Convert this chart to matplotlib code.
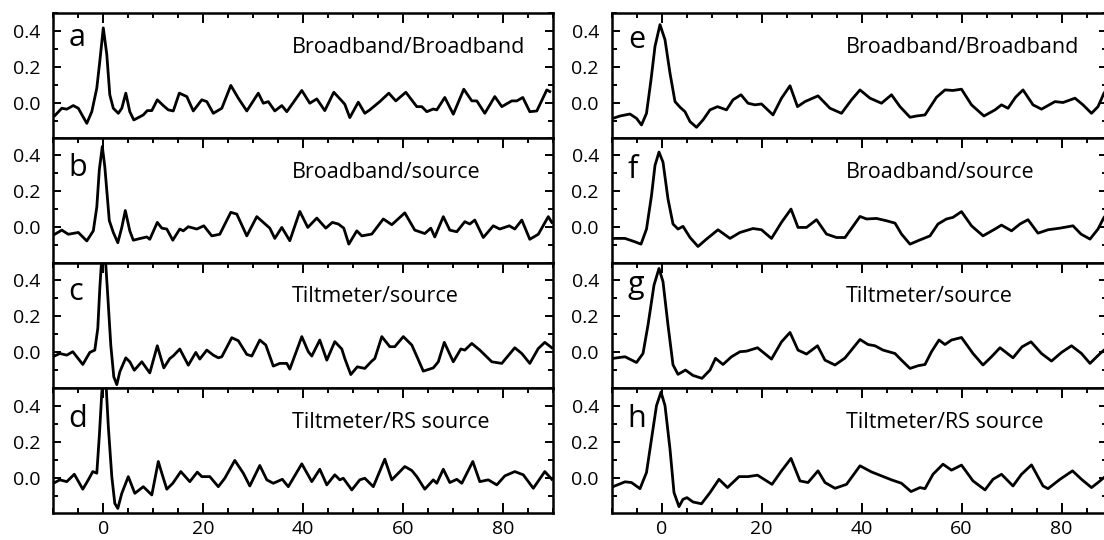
import matplotlib
matplotlib.use("Agg")
import matplotlib.pyplot as plt
from matplotlib.ticker import MultipleLocator, FormatStrFormatter

plt.rcParams['font.family'] = ['Open Sans', 'DejaVu Sans']

# cross-correlation traces as (lag, coefficient)
a_pts = [(-9.7, -0.069), (-8.3, -0.028), (-7.3, -0.033), (-6.0, -0.013), (-5.0, -0.028),
         (-3.3, -0.112), (-2.3, -0.047), (-1.3, 0.084), (-0.7, 0.233), (0.0, 0.419),
         (0.7, 0.270), (1.3, 0.047), (2.0, -0.028), (3.0, -0.056), (3.7, -0.028),
         (4.5, 0.056), (5.3, -0.047), (6.1, -0.093), (7.0, -0.080), (8.0, -0.065),
         (8.8, -0.041), (9.7, -0.041), (10.8, 0.019), (12.0, -0.013), (13.0, -0.037),
         (14.0, -0.043), (15.2, 0.056), (16.7, 0.037), (18.0, -0.043), (19.7, 0.019),
         (20.7, 0.009), (22.0, -0.056), (23.7, -0.028), (25.5, 0.099), (27.0, 0.028),
         (28.7, -0.043), (31.0, 0.056), (32.0, 0.0), (33.0, 0.009), (34.3, -0.043),
         (35.7, -0.013), (36.7, -0.047), (39.7, 0.071), (41.3, 0.0), (42.7, 0.024),
         (44.3, -0.041), (46.1, 0.061), (47.7, 0.013), (48.3, -0.006), (49.3, -0.080),
         (51.0, 0.006), (52.3, -0.056), (53.3, -0.037), (55.3, 0.009), (57.1, 0.056),
         (58.5, 0.013), (60.5, 0.061), (62.7, -0.019), (63.7, -0.019), (64.7, -0.047),
         (66.0, -0.032), (66.7, -0.037), (68.3, 0.032), (70.0, -0.061), (72.1, 0.078),
         (73.7, 0.013), (74.7, 0.013), (76.3, -0.056), (78.3, 0.037), (79.7, -0.019),
         (81.7, 0.013), (82.7, 0.013), (83.9, 0.032), (85.3, -0.047), (86.7, -0.043),
         (88.7, 0.074), (89.3, 0.065)]

b_pts = [(-9.7, -0.038), (-8.3, -0.015), (-7.0, -0.038), (-5.0, -0.028), (-3.3, -0.075),
         (-2.0, -0.019), (-1.3, 0.113), (-0.8, 0.32), (-0.2, 0.45), (0.3, 0.338),
         (1.2, 0.038), (2.0, -0.028), (2.9, -0.085), (3.7, 0.0), (4.4, 0.094),
         (5.3, -0.019), (6.0, -0.071), (7.3, -0.062), (8.7, -0.053), (9.3, -0.066),
         (10.8, 0.028), (11.7, -0.004), (12.7, -0.009), (13.9, -0.071), (15.3, -0.009),
         (16.0, -0.019), (17.0, 0.004), (18.7, -0.009), (20.1, 0.009), (21.7, -0.047),
         (23.3, -0.038), (25.5, 0.084), (26.7, 0.074), (28.7, -0.047), (30.7, 0.06),
         (32.0, 0.028), (33.3, -0.004), (34.3, -0.061), (35.7, 0.0), (37.3, -0.074),
         (39.3, 0.089), (40.9, 0.0), (42.7, 0.052), (44.5, -0.004), (45.8, 0.028),
         (47.0, 0.019), (48.1, -0.004), (49.1, -0.093), (50.7, -0.019), (51.7, -0.047),
         (53.7, -0.037), (56.0, 0.047), (57.7, 0.015), (60.3, 0.081), (62.3, -0.015),
         (64.3, -0.034), (65.5, -0.004), (66.3, -0.053), (68.0, 0.06), (69.3, -0.015),
         (70.7, -0.024), (72.3, 0.032), (73.3, 0.019), (74.3, 0.041), (76.0, -0.056),
         (78.0, 0.009), (79.3, -0.009), (81.2, 0.009), (82.3, -0.009), (83.7, 0.041),
         (85.3, -0.066), (87.0, -0.038), (89.0, 0.06), (89.7, 0.028)]

c_pts = [(-9.7, -0.019), (-8.7, -0.006), (-7.3, -0.015), (-6.1, 0.004), (-4.1, -0.067),
         (-2.7, 0.0), (-1.7, 0.013), (-1.1, 0.134), (-0.7, 0.357), (-0.3, 0.53),
         (0.4, 0.53), (0.8, 0.357), (1.5, 0.04), (2.1, -0.136), (2.7, -0.179),
         (3.3, -0.108), (4.5, -0.03), (5.3, -0.052), (6.2, -0.099), (7.7, -0.052),
         (9.3, -0.114), (10.8, 0.037), (12.1, -0.086), (13.3, -0.034), (14.0, -0.019),
         (15.3, 0.019), (17.0, -0.071), (18.5, 0.0), (19.3, -0.037), (20.7, 0.013),
         (22.0, -0.015), (23.0, -0.03), (23.7, -0.024), (25.7, 0.082), (27.0, 0.065),
         (28.7, -0.011), (29.7, -0.02), (31.3, 0.069), (32.5, 0.041), (34.0, -0.076),
         (35.3, -0.061), (36.7, -0.061), (37.3, -0.093), (39.7, 0.088), (41.0, 0.004),
         (41.7, -0.02), (43.3, 0.069), (44.7, -0.043), (46.3, 0.06), (47.7, 0.019),
         (48.3, -0.034), (49.5, -0.123), (50.8, -0.08), (52.3, -0.089), (53.7, -0.048),
         (54.3, -0.034), (55.7, 0.088), (57.3, 0.032), (58.3, 0.032), (60.0, 0.088),
         (61.7, 0.041), (62.9, -0.034), (64.0, -0.104), (66.0, -0.086), (67.0, -0.052),
         (68.2, 0.056), (70.0, -0.052), (71.5, 0.019), (72.3, 0.013), (73.7, 0.05),
         (75.3, 0.013), (77.7, -0.052), (79.7, -0.061), (80.8, -0.024), (82.3, 0.026),
         (83.7, -0.006), (85.3, -0.061), (87.0, 0.022), (88.3, 0.056), (89.7, 0.026)]

d_pts = [(-9.7, -0.024), (-8.7, -0.009), (-7.3, -0.019), (-5.8, 0.022), (-4.1, -0.061),
         (-3.0, -0.009), (-2.1, 0.037), (-1.3, 0.028), (-0.8, 0.233), (-0.3, 0.475),
         (0.0, 0.55), (0.5, 0.55), (1.0, 0.289), (1.7, 0.009), (2.3, -0.14),
         (2.9, -0.168), (3.7, -0.084), (5.0, 0.009), (6.3, -0.084), (8.0, -0.047),
         (9.7, -0.093), (11.0, 0.093), (11.7, 0.028), (12.7, -0.061), (13.9, -0.028),
         (15.5, 0.037), (17.3, -0.019), (18.8, 0.034), (19.7, 0.009), (21.3, 0.009),
         (23.0, -0.047), (24.3, 0.0), (26.3, 0.099), (28.0, 0.028), (29.3, -0.043),
         (31.3, 0.071), (32.7, -0.009), (34.0, -0.028), (35.8, -0.006), (37.0, -0.047),
         (39.7, 0.08), (41.7, -0.019), (43.3, 0.05), (44.7, -0.037), (46.3, 0.019),
         (47.3, -0.009), (48.0, 0.0), (49.7, -0.065), (51.3, -0.009), (52.3, 0.0),
         (54.0, -0.047), (56.3, 0.106), (57.7, -0.009), (60.3, 0.065), (61.7, 0.043),
         (62.7, 0.009), (64.3, -0.061), (66.0, -0.009), (66.7, -0.028), (68.0, 0.05),
         (69.3, -0.024), (70.7, -0.006), (71.7, -0.028), (73.9, 0.093), (75.3, -0.019),
         (77.0, -0.009), (78.7, -0.037), (80.3, 0.013), (82.3, 0.037), (84.0, 0.019),
         (86.0, -0.056), (88.3, 0.037), (89.7, -0.006)]

e_pts = [(-9.7, -0.084), (-8.3, -0.071), (-6.3, -0.06), (-5.0, -0.084), (-4.0, -0.121),
         (-3.0, -0.056), (-2.1, 0.13), (-1.3, 0.316), (-0.3, 0.437), (0.7, 0.353),
         (1.7, 0.167), (2.7, 0.009), (3.7, -0.022), (4.7, -0.047), (5.7, -0.102),
         (7.0, -0.134), (8.3, -0.093), (9.7, -0.037), (11.2, -0.019), (13.0, -0.037),
         (14.3, 0.019), (15.9, 0.047), (17.3, 0.0), (18.7, -0.009), (20.0, -0.004),
         (22.3, -0.065), (24.0, 0.028), (25.7, 0.097), (27.2, -0.019), (28.7, 0.009),
         (31.3, 0.041), (33.7, -0.028), (36.0, -0.056), (38.0, 0.019), (39.7, 0.074),
         (41.7, 0.028), (44.0, 0.0), (46.0, 0.047), (47.7, -0.019), (49.7, -0.078),
         (51.0, -0.071), (52.7, -0.065), (55.0, 0.033), (56.7, 0.074), (58.3, 0.071),
         (60.0, 0.078), (62.0, -0.009), (64.5, -0.071), (66.7, -0.037), (68.0, -0.009),
         (69.3, -0.028), (70.8, 0.033), (72.3, 0.074), (74.3, -0.009), (76.0, -0.033),
         (78.7, 0.009), (80.3, 0.004), (82.7, 0.028), (84.3, -0.009), (86.0, -0.056),
         (87.3, -0.019), (88.5, 0.056), (89.0, 0.075)]

f_pts = [(-9.7, -0.061), (-7.3, -0.061), (-5.3, -0.08), (-4.1, -0.093), (-3.0, -0.009),
         (-2.0, 0.177), (-1.3, 0.345), (-0.5, 0.419), (0.3, 0.363), (1.3, 0.158),
         (2.3, 0.019), (3.3, -0.009), (4.3, 0.006), (5.7, -0.056), (7.3, -0.106),
         (9.0, -0.065), (11.3, -0.013), (13.7, -0.061), (15.7, -0.028), (18.3, -0.006),
         (20.0, -0.013), (22.0, -0.061), (24.0, 0.028), (25.9, 0.102), (27.3, 0.0),
         (29.0, 0.0), (31.0, 0.043), (33.0, -0.037), (35.0, -0.056), (36.7, -0.056),
         (39.7, 0.061), (41.0, 0.047), (43.0, 0.05), (45.0, 0.037), (46.7, 0.024),
         (48.0, -0.037), (49.7, -0.093), (51.3, -0.074), (53.7, -0.047), (55.3, 0.019),
         (57.0, 0.047), (58.3, 0.056), (60.0, 0.088), (62.0, 0.009), (64.3, -0.047),
         (66.7, -0.009), (68.0, 0.013), (70.0, -0.019), (71.7, 0.019), (73.3, 0.043),
         (75.3, -0.032), (77.3, -0.013), (79.7, -0.004), (82.3, 0.009), (83.9, -0.037),
         (85.7, -0.065), (87.3, -0.009), (88.5, 0.056), (89.0, 0.07)]

g_pts = [(-9.7, -0.033), (-7.3, -0.024), (-5.0, -0.056), (-3.7, -0.006), (-2.7, 0.152),
         (-1.5, 0.374), (-0.5, 0.467), (0.3, 0.393), (1.3, 0.152), (2.3, -0.069),
         (3.3, -0.122), (4.8, -0.098), (6.3, -0.128), (8.1, -0.144), (9.7, -0.098),
         (10.8, -0.033), (12.3, -0.067), (14.0, -0.024), (15.7, 0.004), (17.0, 0.007),
         (19.2, 0.026), (22.0, -0.037), (24.0, 0.059), (25.7, 0.111), (27.3, 0.013),
         (29.0, -0.009), (31.2, 0.037), (32.7, -0.043), (34.7, -0.07), (36.7, -0.031),
         (39.7, 0.072), (41.3, 0.044), (42.7, 0.037), (44.3, 0.013), (46.7, -0.006),
         (48.0, -0.043), (49.7, -0.089), (51.3, -0.074), (52.7, -0.067), (54.0, 0.004),
         (55.5, 0.069), (56.7, 0.044), (58.0, 0.069), (60.0, 0.083), (62.3, -0.006),
         (64.3, -0.07), (66.0, -0.024), (67.7, 0.026), (70.3, -0.03), (72.1, 0.031),
         (73.9, 0.059), (76.0, -0.006), (78.0, -0.048), (80.0, 0.0), (82.0, 0.037),
         (84.0, -0.006), (85.7, -0.061), (87.3, -0.017), (88.5, 0.013), (89.0, 0.02)]

h_pts = [(-9.7, -0.047), (-7.3, -0.02), (-6.0, -0.024), (-4.3, -0.058), (-3.0, 0.032),
         (-2.0, 0.218), (-1.0, 0.404), (-0.1, 0.479), (0.7, 0.404), (1.7, 0.162),
         (2.5, -0.08), (3.5, -0.158), (4.3, -0.117), (5.1, -0.108), (6.3, -0.132),
         (8.0, -0.142), (9.7, -0.08), (11.5, -0.006), (13.2, -0.052), (15.5, 0.009),
         (17.3, 0.009), (19.2, 0.017), (22.1, -0.034), (24.0, 0.041), (25.9, 0.11),
         (27.7, -0.015), (29.3, -0.024), (31.3, 0.041), (32.7, -0.024), (34.7, -0.056),
         (37.0, -0.034), (39.7, 0.069), (42.0, 0.035), (44.0, 0.013), (46.0, -0.009),
         (48.0, -0.028), (49.9, -0.074), (51.7, -0.052), (52.7, -0.058), (54.3, 0.022),
         (56.3, 0.078), (58.0, 0.045), (60.0, 0.073), (62.3, -0.015), (64.7, -0.065),
         (66.3, -0.006), (68.0, 0.022), (70.3, -0.043), (72.0, 0.022), (74.0, 0.074),
         (76.3, -0.043), (77.3, -0.058), (79.7, -0.006), (82.2, 0.041), (84.0, -0.006),
         (86.0, -0.052), (87.3, -0.024), (88.5, 0.004), (89.0, 0.015)]

letters = ['a', 'b', 'c', 'd', 'e', 'f', 'g', 'h']
titles = ['Broadband/Broadband', 'Broadband/source', 'Tiltmeter/source', 'Tiltmeter/RS source'] * 2
traces = [a_pts, b_pts, c_pts, d_pts, e_pts, f_pts, g_pts, h_pts]
letter_y = [0.74, 0.69, 0.70, 0.69, 0.72, 0.68, 0.76, 0.69]

fig = plt.figure(figsize=(11.04, 5.4), dpi=100)

W, H = 1104.0, 540.0
col_left = [53.3, 611.5]      # pixel x of left spine
col_xmax = [90, 89]           # right column runs off the page
row_top = [13.3, 137.5, 262.5, 388.3]
row_h = 125.0

for i, pts in enumerate(traces):
    col, row = divmod(i, 4)
    x0 = col_left[col]
    width = (col_xmax[col] + 10) * 5.0
    bottom = H - row_top[row] - row_h
    ax = fig.add_axes([x0 / W, bottom / H, width / W, row_h / H])

    lag = [p[0] for p in pts]
    coef = [p[1] for p in pts]
    ax.plot(lag, coef, color='black', lw=2.0, solid_joinstyle='round')

    ax.set_xlim(-10, col_xmax[col])
    ax.set_ylim(-0.195, 0.50)
    ax.xaxis.set_major_locator(MultipleLocator(20))
    ax.xaxis.set_minor_locator(MultipleLocator(5))
    ax.yaxis.set_major_locator(MultipleLocator(0.2))
    ax.yaxis.set_minor_locator(MultipleLocator(0.1))
    ax.yaxis.set_major_formatter(FormatStrFormatter('%.1f'))

    last = row == 3
    ax.tick_params(which='both', direction='in', top=True, right=True,
                   bottom=last, labelbottom=last, width=1.4, labelsize=14)
    ax.tick_params(axis='x', which='major', length=7, pad=5)
    ax.tick_params(axis='y', which='major', length=5.5, pad=9)
    ax.tick_params(which='minor', length=3.6)
    for s in ax.spines.values():
        s.set_linewidth(1.8)

    xfrac = 0.030 if col == 0 else 0.033
    ax.text(xfrac, letter_y[i], letters[i], transform=ax.transAxes, fontsize=22,
            va='baseline', ha='left')
    tx = 0.477 if col == 0 else 0.474
    ax.text(tx, 0.68, titles[i], transform=ax.transAxes, fontsize=15.5,
            va='baseline', ha='left')

fig.savefig('out.png', dpi=100)
